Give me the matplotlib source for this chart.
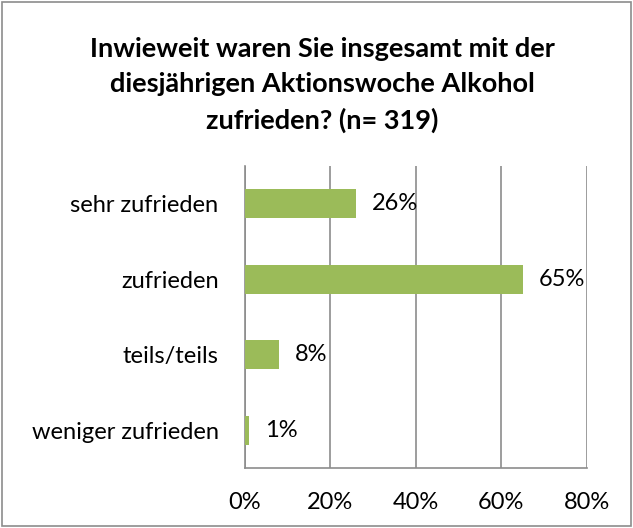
import matplotlib.pyplot as plt
from matplotlib.patches import Rectangle

categories = ['sehr zufrieden', 'zufrieden', 'teils/teils', 'weniger zufrieden']
values = [26, 65, 8, 1]
xticks = [0, 20, 40, 60, 80]

plt.rcParams['font.family'] = ['Lato', 'DejaVu Sans']

fig = plt.figure(figsize=(6.33, 5.28), dpi=100)
ax = fig.add_axes([0.387, 0.1136, 0.540, 0.572])

ypos = list(range(len(categories)))[::-1]
ax.barh(ypos, values, height=0.39, color='#9BBB59', zorder=3)
for y, v in zip(ypos, values):
    ax.text(v + 3.7, y, f'{v}%', va='center', ha='left', fontsize=17)

ax.set_xlim(0, 80)
ax.set_ylim(-0.5, len(categories) - 0.5)
ax.set_yticks(ypos)
ax.set_yticklabels(categories, fontsize=17)
ax.set_xticks(xticks)
ax.set_xticklabels([f'{t}%' for t in xticks], fontsize=17)
ax.tick_params(length=0)
ax.tick_params(axis='y', pad=19)
ax.tick_params(axis='x', pad=17)
ax.grid(axis='x', color='#8c8c8c', linewidth=1.2, zorder=0)
for s in ['top', 'right']:
    ax.spines[s].set_visible(False)
for s in ['left', 'bottom']:
    ax.spines[s].set_color('#8c8c8c')
    ax.spines[s].set_linewidth(1.2)

fig.text(0.509, 0.93, 'Inwieweit waren Sie insgesamt mit der\ndiesjährigen Aktionswoche Alkohol\nzufrieden? (n= 319)',
         ha='center', va='top', fontsize=19.5, fontweight='bold', linespacing=1.55)

fig.patches.append(Rectangle((0.003, 0.003), 0.994, 0.994, transform=fig.transFigure,
                             fill=False, edgecolor='#8c8c8c', linewidth=1.2))

fig.savefig('out.png', dpi=100)
